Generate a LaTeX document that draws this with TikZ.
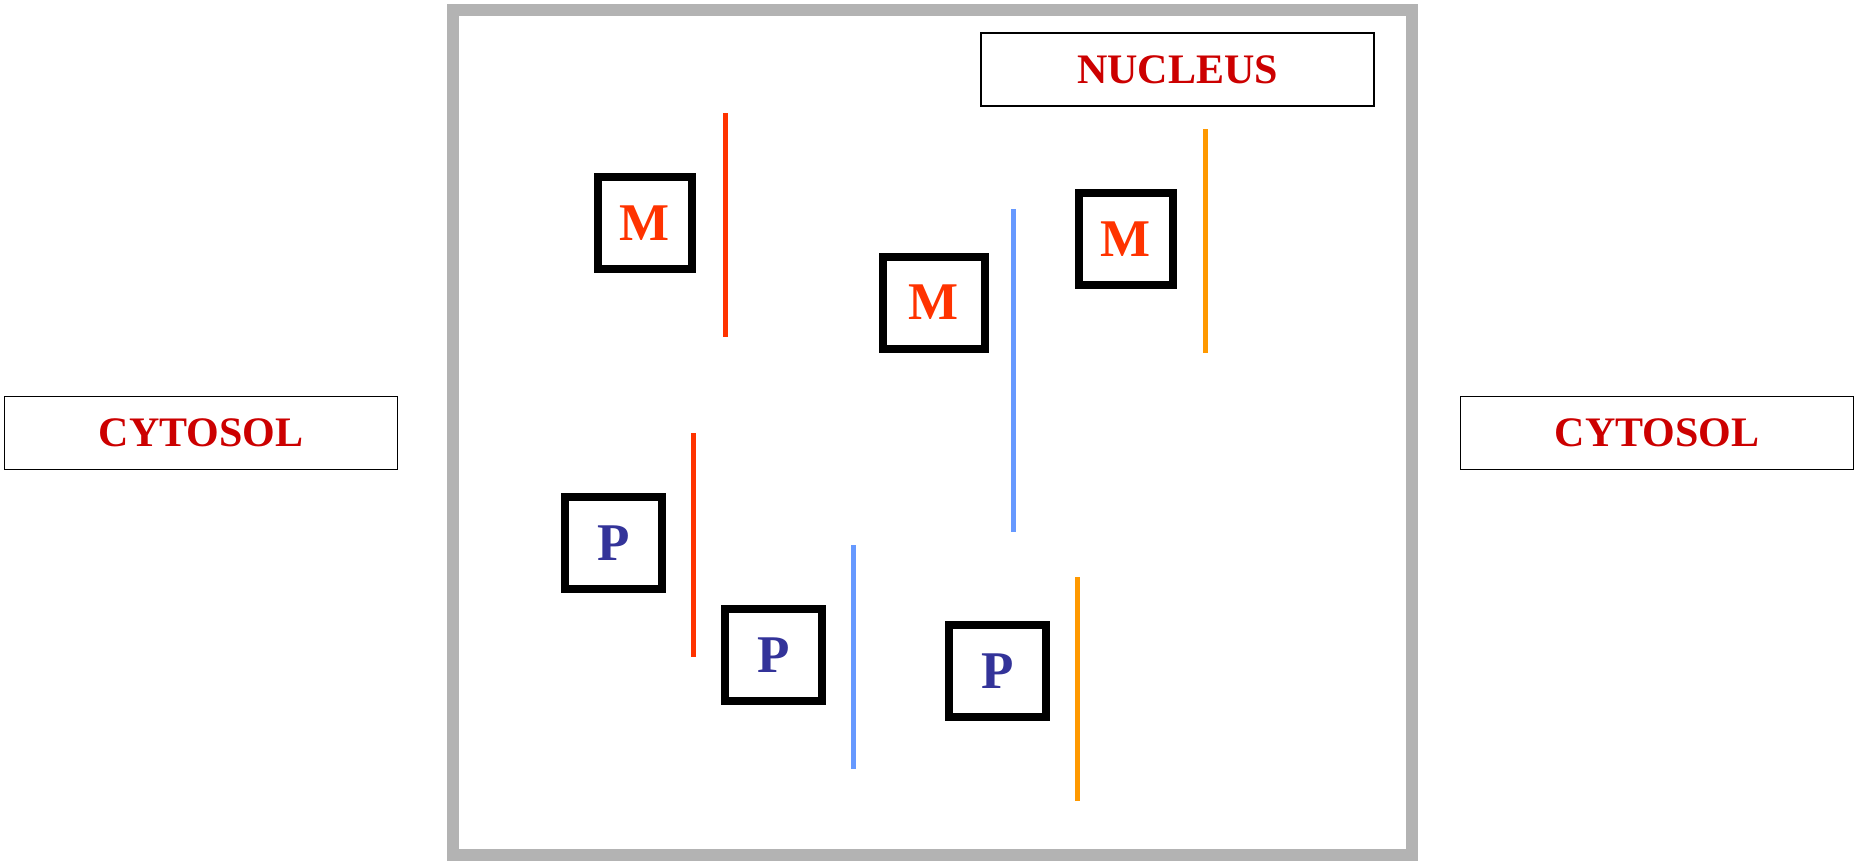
\documentclass[tikz,border=0pt]{standalone}
\usepackage{fontspec}
\setmainfont{Liberation Serif}
\definecolor{labelred}{HTML}{CC0000}
\definecolor{mred}{HTML}{FF3300}
\definecolor{pblue}{HTML}{333399}
\definecolor{memblue}{HTML}{6699FF}
\definecolor{memorange}{HTML}{FF9900}
\definecolor{framegray}{HTML}{B3B3B3}

\begin{document}
\begin{tikzpicture}[x=1pt,y=-1pt,
			labelbox/.style={draw,line width=1.6pt,minimum width=393pt,minimum height=73pt,inner sep=0pt,
				text=labelred,font=\fontsize{42}{48}\selectfont\bfseries},
			mbox/.style={draw,line width=8pt,minimum height=92pt,inner sep=0pt,
				text=mred,font=\fontsize{53}{58}\selectfont\bfseries},
			pbox/.style={draw,line width=8pt,minimum width=97pt,minimum height=92pt,inner sep=0pt,
				text=pblue,font=\fontsize{53}{58}\selectfont\bfseries},
			membrane/.style={line width=5pt}]
			
			\useasboundingbox (0,0) rectangle (1865,865);
			
			% Cell frame
			\draw[framegray,line width=12pt] (453,10) rectangle (1412,855);
			
			% Compartment labels
			\node[labelbox] (cytoleft) at (201,433) {CYTOSOL};
			\node[labelbox] (cytoright) at (1657,433) {CYTOSOL};
			\node[labelbox] (nucleus) at (1177.5,69.5) {NUCLEUS};
			
			% M boxes
			\foreach \i/\x/\y/\w in {1/645/223/94,2/933.5/302.5/102,3/1125.5/239/94}{
				\node[mbox,minimum width=\w pt] (m\i) at (\x,\y) {M};
			}
			
			% P boxes
			\foreach \i/\x/\y in {1/613.5/543,2/773.5/655,3/997.5/671}{
				\node[pbox] (p\i) at (\x,\y) {P};
			}
			
			% Membrane bars
			\foreach \x/\ya/\yb/\col in {725/113/337/mred,1013/209/532/memblue,1205/129/353/memorange,
				693/433/657/mred,853/545/769/memblue,1077/577/801/memorange}{
				\draw[membrane,\col] (\x,\ya) -- (\x,\yb);
			}
			
		\end{tikzpicture}
\end{document}
